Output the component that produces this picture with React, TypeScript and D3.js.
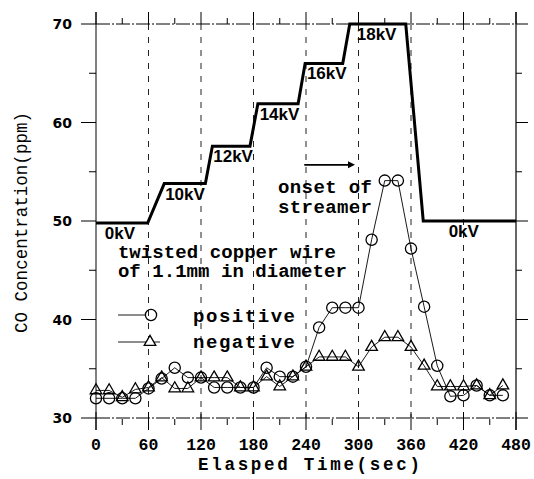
import React, { useEffect, useRef } from 'react';
import * as d3 from 'd3';

// sampling times (sec) for the CO measurements
const sampleTimes = [0, 15, 30, 45, 60, 75, 90, 105, 120, 135, 150, 165, 180, 195, 210, 225,
  240, 255, 270, 285, 300, 315, 330, 345, 360, 375, 390, 405, 420, 435, 450, 465];

// CO concentration (ppm), positive polarity
const positiveCO = [32.0, 32.0, 32.0, 32.0, 33.0, 34.0, 35.1, 34.1, 34.1, 33.1, 33.1, 33.1, 33.1, 35.1, 34.2, 34.2,
  35.2, 39.2, 41.2, 41.2, 41.2, 48.1, 54.1, 54.1, 47.2, 41.3, 35.3, 32.2, 32.3, 33.3, 32.3, 32.3];

// CO concentration (ppm), negative polarity
const negativeCO = [32.8, 32.8, 32.1, 32.9, 33.1, 34.1, 33.0, 33.0, 34.1, 34.1, 34.1, 33.1, 33.1, 34.2, 33.2, 34.2,
  35.2, 36.2, 36.2, 36.2, 35.2, 37.2, 38.2, 38.2, 37.2, 35.3, 33.2, 33.2, 33.2, 33.3, 32.3, 33.3];

// applied voltage staircase, drawn on the ppm scale
const stepTimes = [0, 59, 78, 125, 133, 176, 185, 231, 239, 282, 290, 354, 374, 480];
const stepLevels = [49.8, 49.8, 53.8, 53.8, 57.6, 57.6, 61.9, 61.9, 66, 66, 70, 70, 50, 50];

const voltLabels = ['0kV', '10kV', '12kV', '14kV', '16kV', '18kV', '0kV'];
const voltLabelTimes = [10, 79, 134, 187, 241, 298, 403];
const voltLabelLevels = [49.8, 53.8, 57.6, 61.9, 66, 70, 50];

const xTicks = [0, 60, 120, 180, 240, 300, 360, 420, 480];
const xMinorTicks = [30, 90, 150, 210, 270, 330, 390, 450];
const yTicks = [30, 40, 50, 60, 70];
const yMinorTicks = [35, 45, 55, 65];
const gridTimes = [60, 120, 180, 240, 300, 360, 420];

const App: React.FC = () => {
  const svgRef = useRef<SVGSVGElement>(null);

  useEffect(() => {
    if (!svgRef.current) return;
    const svg = d3.select(svgRef.current);
    svg.selectAll('*').remove();

    const x = d3.scaleLinear().domain([0, 480]).range([96, 516]);
    const y = d3.scaleLinear().domain([30, 70]).range([418, 24]);
    const [x0, x1] = x.range();
    const [yb, yt] = y.range();

    const mono = "'Liberation Mono', 'Courier New', monospace";

    svg.append('rect').attr('width', 534).attr('height', 479).attr('fill', '#fff');

    // dashed vertical grid
    svg.append('g').selectAll('line')
      .data(gridTimes).enter().append('line')
      .attr('x1', d => x(d)).attr('x2', d => x(d))
      .attr('y1', yt).attr('y2', yb)
      .attr('stroke', '#222').attr('stroke-width', 1)
      .attr('stroke-dasharray', '6,7');

    // frame
    const frame = svg.append('g').attr('stroke', '#000').attr('fill', 'none');
    frame.append('line').attr('x1', x0).attr('x2', x0).attr('y1', yt - 12).attr('y2', yb + 12).attr('stroke-width', 1);
    frame.append('line').attr('x1', x1).attr('x2', x1).attr('y1', yt - 12).attr('y2', yb + 12).attr('stroke-width', 1.2);
    frame.append('line').attr('x1', x0).attr('x2', x1).attr('y1', yt).attr('y2', yt)
      .attr('stroke-width', 1).attr('stroke-dasharray', '14,2,2,2');
    frame.append('line').attr('x1', x0).attr('x2', x1).attr('y1', yb).attr('y2', yb)
      .attr('stroke-width', 1).attr('stroke-dasharray', '14,2,2,2');

    // ticks
    const ticks = svg.append('g').attr('stroke', '#000').attr('stroke-width', 1);
    yTicks.forEach(v => {
      ticks.append('line').attr('x1', x0 - 15).attr('x2', x0).attr('y1', y(v)).attr('y2', y(v));
      ticks.append('line').attr('x1', x1).attr('x2', x1 + 12).attr('y1', y(v)).attr('y2', y(v));
    });
    yMinorTicks.forEach(v => {
      ticks.append('line').attr('x1', x0 - 7).attr('x2', x0).attr('y1', y(v)).attr('y2', y(v));
      ticks.append('line').attr('x1', x1).attr('x2', x1 + 6).attr('y1', y(v)).attr('y2', y(v));
    });
    xTicks.forEach(t => {
      ticks.append('line').attr('x1', x(t)).attr('x2', x(t)).attr('y1', yt - 12).attr('y2', yt);
      ticks.append('line').attr('x1', x(t)).attr('x2', x(t)).attr('y1', yb - 6).attr('y2', yb + 12);
    });
    xMinorTicks.forEach(t => {
      ticks.append('line').attr('x1', x(t)).attr('x2', x(t)).attr('y1', yt - 6).attr('y2', yt);
      ticks.append('line').attr('x1', x(t)).attr('x2', x(t)).attr('y1', yb + 1).attr('y2', yb + 7);
    });

    // tick labels
    svg.append('g').selectAll('text')
      .data(yTicks).enter().append('text')
      .attr('x', 72).attr('y', d => y(d)).attr('dy', '0.36em')
      .attr('text-anchor', 'end')
      .attr('font-family', "'DejaVu Sans', sans-serif").attr('font-weight', 'bold').attr('font-size', 14)
      .text(d => d);

    svg.append('g').selectAll('text')
      .data(xTicks).enter().append('text')
      .attr('x', d => x(d)).attr('y', 449.5)
      .attr('text-anchor', 'middle')
      .attr('font-family', mono).attr('font-weight', 'bold').attr('font-size', 16.5)
      .text(d => d);

    // axis titles
    svg.append('text')
      .attr('x', 309).attr('y', 470)
      .attr('text-anchor', 'middle')
      .attr('font-family', mono).attr('font-weight', 'bold').attr('font-size', 17.5)
      .attr('textLength', 222).attr('lengthAdjust', 'spacing')
      .text('Elasped Time(sec)');

    svg.append('text')
      .attr('transform', 'translate(27,222.5) rotate(-90)')
      .attr('text-anchor', 'middle')
      .attr('font-family', mono).attr('font-size', 17.5)
      .attr('textLength', 221).attr('lengthAdjust', 'spacing')
      .text('CO Concentration(ppm)');

    // voltage staircase
    const stepLine = d3.line<number>()
      .x((_, i) => x(stepTimes[i]))
      .y(d => y(d));
    svg.append('path')
      .attr('d', stepLine(stepLevels))
      .attr('fill', 'none').attr('stroke', '#000').attr('stroke-width', 3)
      .attr('stroke-linejoin', 'miter');

    svg.append('g').selectAll('text')
      .data(voltLabels).enter().append('text')
      .attr('x', (_, i) => x(voltLabelTimes[i]))
      .attr('y', (_, i) => y(voltLabelLevels[i]) + 16)
      .attr('font-family', "'Liberation Sans', Arial, sans-serif").attr('font-weight', 'bold').attr('font-size', 17)
      .text(d => d);

    // CO series
    const seriesLine = d3.line<number>()
      .x((_, i) => x(sampleTimes[i]))
      .y(d => y(d));

    svg.append('path').attr('d', seriesLine(negativeCO))
      .attr('fill', 'none').attr('stroke', '#000').attr('stroke-width', 0.9);
    svg.append('path').attr('d', seriesLine(positiveCO))
      .attr('fill', 'none').attr('stroke', '#000').attr('stroke-width', 0.9);

    const tri = d3.symbol().type(d3.symbolTriangle).size(58);
    svg.append('g').selectAll('path')
      .data(negativeCO).enter().append('path')
      .attr('d', tri)
      .attr('transform', (d, i) => `translate(${x(sampleTimes[i])},${y(d)})`)
      .attr('fill', 'none').attr('stroke', '#000').attr('stroke-width', 1.3);

    svg.append('g').selectAll('circle')
      .data(positiveCO).enter().append('circle')
      .attr('cx', (_, i) => x(sampleTimes[i]))
      .attr('cy', d => y(d))
      .attr('r', 5.6)
      .attr('fill', 'none').attr('stroke', '#000').attr('stroke-width', 1.3);

    // annotations
    const note = svg.append('g')
      .attr('font-family', mono).attr('font-weight', 'bold').attr('font-size', 19);
    note.append('text').attr('x', x(208)).attr('y', y(52.84)).attr('textLength', 94).text('onset of');
    note.append('text').attr('x', x(208)).attr('y', y(50.81)).attr('textLength', 94).text('streamer');
    note.append('text').attr('x', x(25)).attr('y', y(46.24)).attr('textLength', 218).text('twisted copper wire');
    note.append('text').attr('x', x(25)).attr('y', y(44.31)).attr('textLength', 229).text('of 1.1mm in diameter');

    // arrow toward streamer onset
    const ay = y(55.7);
    svg.append('line')
      .attr('x1', x(238)).attr('x2', x(292)).attr('y1', ay).attr('y2', ay)
      .attr('stroke', '#000').attr('stroke-width', 1.6);
    svg.append('path')
      .attr('d', `M${x(296)},${ay} L${x(288)},${ay - 3.5} L${x(288)},${ay + 3.5} Z`)
      .attr('fill', '#000');

    // legend
    const lg = svg.append('g');
    lg.append('line').attr('x1', 118).attr('x2', 145.5).attr('y1', 315).attr('y2', 315)
      .attr('stroke', '#000').attr('stroke-width', 0.9);
    lg.append('circle').attr('cx', 151).attr('cy', 315).attr('r', 5.6)
      .attr('fill', 'none').attr('stroke', '#000').attr('stroke-width', 1.3);
    lg.append('line').attr('x1', 118).attr('x2', 160).attr('y1', 342).attr('y2', 342)
      .attr('stroke', '#000').attr('stroke-width', 0.9);
    lg.append('path').attr('d', tri).attr('transform', 'translate(150,342)')
      .attr('fill', '#fff').attr('stroke', '#000').attr('stroke-width', 1.3);
    lg.append('text').attr('x', 193).attr('y', 322)
      .attr('font-family', mono).attr('font-weight', 'bold').attr('font-size', 19)
      .attr('textLength', 102).text('positive');
    lg.append('text').attr('x', 193).attr('y', 347.5)
      .attr('font-family', mono).attr('font-weight', 'bold').attr('font-size', 19)
      .attr('textLength', 102).text('negative');
  }, []);

  return (
    <svg ref={svgRef} width={534} height={479}
      style={{ position: 'absolute', left: 0, top: 0, display: 'block' }} />
  );
};

export default App;
